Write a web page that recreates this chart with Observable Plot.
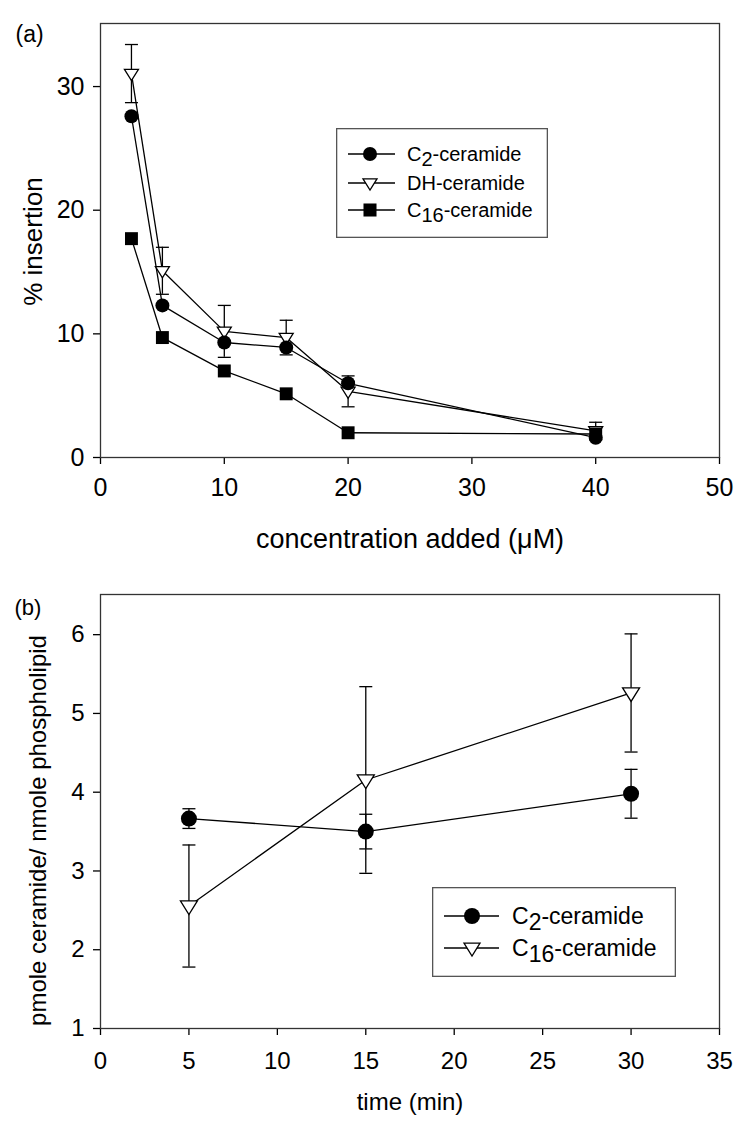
<!DOCTYPE html>
<html><head><meta charset="utf-8">
<script src="https://cdn.jsdelivr.net/npm/d3@7"></script>
<script src="https://cdn.jsdelivr.net/npm/@observablehq/plot@0.6"></script>
<style>
body{margin:0;background:#fff;}
#wrap{position:relative;width:750px;height:1121px;font-family:"Liberation Sans",Arial,sans-serif;background:#fff;}
.panel{position:absolute;left:0;}
.legend{position:absolute;}
</style></head>
<body><div id="wrap"><div id="pa" class="panel" style="top:0"></div><div id="pb" class="panel" style="top:560px"></div></div>
<script>
// ---- Panel (a) data ----
const concA = [2.5, 5, 10, 15, 20, 40];
const c2A = [27.6, 12.3, 9.3, 8.9, 6.0, 1.6];
const dhA = [31.05, 15.1, 10.2, 9.7, 5.35, 2.15];
const dhErrA = [2.35, 1.9, 2.1, 1.4, 1.25, 0.7];
const c16A = [17.7, 9.7, 7.0, 5.15, 2.0, 1.9];
const xTicksA = [0, 10, 20, 30, 40, 50];
const yTicksA = [0, 10, 20, 30];
const xLabelA = "concentration added (\u03BCM)";
const yLabelA = "% insertion";
const tagA = "(a)";
const legendA = [["C", "2", "-ceramide"], ["DH-ceramide", "", ""], ["C", "16", "-ceramide"]];

// ---- Panel (b) data ----
const timeB = [5, 15, 30];
const c2B = [3.665, 3.5, 3.98];
const c2ErrB = [0.125, 0.22, 0.31];
const c16B = [2.555, 4.155, 5.26];
const c16ErrB = [0.775, 1.185, 0.75];
const xTicksB = [0, 5, 10, 15, 20, 25, 30, 35];
const yTicksB = [1, 2, 3, 4, 5, 6];
const xLabelB = "time (min)";
const yLabelB = "pmole ceramide/ nmole phospholipid";
const tagB = "(b)";
const legendB = [["C", "2", "-ceramide"], ["C", "16", "-ceramide"]];

// ---- symbols ----
const triDown = {draw(ctx, size){const r = Math.sqrt(size/Math.PI); ctx.moveTo(-r,-0.6*r); ctx.lineTo(r,-0.6*r); ctx.lineTo(0,r); ctx.closePath();}};
const cap = {draw(ctx, size){const r = Math.sqrt(size/Math.PI); ctx.moveTo(-r,0); ctx.lineTo(r,0);}};

const font = "'Liberation Sans', Arial, sans-serif";
const fmt = d3.format("d");

// ---- Panel (a) ----
const rowsA = concA.flatMap((x, i) => [
  {series: "C2", x, y: c2A[i]},
  {series: "DH", x, y: dhA[i], e: dhErrA[i]},
  {series: "C16", x, y: c16A[i]}
]);
const dhRows = rowsA.filter(d => d.series === "DH");
const c2Rows = rowsA.filter(d => d.series === "C2");
const c16Rows = rowsA.filter(d => d.series === "C16");

const plotA = Plot.plot({
  width: 750, height: 560,
  marginLeft: 100, marginRight: 31, marginTop: 23, marginBottom: 103,
  style: {fontFamily: font, fontSize: "25px", color: "#000", background: "transparent", overflow: "visible"},
  x: {domain: [0, 50]},
  y: {domain: [0, 35.1]},
  marks: [
    Plot.axisX({ticks: xTicksA, tickSize: 7, tickPadding: 14, fontSize: 25, tickFormat: fmt, label: null, strokeWidth: 1.3}),
    Plot.axisY({ticks: yTicksA, tickSize: 7, tickPadding: 9, fontSize: 25, tickFormat: fmt, label: null, strokeWidth: 1.3}),
    Plot.ruleX(dhRows, {x: "x", y1: d => d.y - d.e, y2: d => d.y + d.e, stroke: "#000", strokeWidth: 1.3}),
    Plot.dot(dhRows, {x: "x", y: d => d.y + d.e, symbol: cap, r: 6.5, stroke: "#000", strokeWidth: 1.3}),
    Plot.dot(dhRows, {x: "x", y: d => d.y - d.e, symbol: cap, r: 6.5, stroke: "#000", strokeWidth: 1.3}),
    Plot.line(rowsA, {x: "x", y: "y", z: "series", stroke: "#000", strokeWidth: 1.3}),
    Plot.dot(dhRows, {x: "x", y: "y", symbol: triDown, r: 7, fill: "#fff", stroke: "#000", strokeWidth: 1.3}),
    Plot.dot(c16Rows, {x: "x", y: "y", symbol: "square", r: 7.3, fill: "#000", stroke: "none"}),
    Plot.dot(c2Rows, {x: "x", y: "y", symbol: "circle", r: 7, fill: "#000", stroke: "none"}),
    Plot.frame({stroke: "#333", strokeWidth: 1.3}),
    Plot.text([xLabelA], {text: d => d, frameAnchor: "bottom", textAnchor: "middle", lineAnchor: "middle", dy: 82, fontSize: 27}),
    Plot.text([yLabelA], {text: d => d, frameAnchor: "left", textAnchor: "middle", lineAnchor: "middle", rotate: -90, dx: -67, dy: 1, fontSize: 26}),
    Plot.text([tagA], {text: d => d, frameAnchor: "top-left", textAnchor: "start", lineAnchor: "middle", dx: -85, dy: 11.5, fontSize: 23})
  ]
});
document.getElementById("pa").appendChild(plotA);

// ---- Panel (b) ----
const rowsB = timeB.flatMap((x, i) => [
  {series: "C2", x, y: c2B[i], e: c2ErrB[i]},
  {series: "C16", x, y: c16B[i], e: c16ErrB[i]}
]);
const c2RowsB = rowsB.filter(d => d.series === "C2");
const c16RowsB = rowsB.filter(d => d.series === "C16");

const plotB = Plot.plot({
  width: 750, height: 561,
  marginLeft: 100, marginRight: 31, marginTop: 34, marginBottom: 93,
  style: {fontFamily: font, fontSize: "24px", color: "#000", background: "transparent", overflow: "visible"},
  x: {domain: [0, 35]},
  y: {domain: [1, 6.51]},
  marks: [
    Plot.axisX({ticks: xTicksB, tickSize: 7, tickPadding: 16, fontSize: 24, tickFormat: fmt, label: null, strokeWidth: 1.3}),
    Plot.axisY({ticks: yTicksB, tickSize: 7, tickPadding: 9, fontSize: 24, tickFormat: fmt, label: null, strokeWidth: 1.3}),
    Plot.ruleX(rowsB, {x: "x", y1: d => d.y - d.e, y2: d => d.y + d.e, stroke: "#000", strokeWidth: 1.3}),
    Plot.dot(rowsB, {x: "x", y: d => d.y + d.e, symbol: cap, r: 6.5, stroke: "#000", strokeWidth: 1.3}),
    Plot.dot(rowsB, {x: "x", y: d => d.y - d.e, symbol: cap, r: 6.5, stroke: "#000", strokeWidth: 1.3}),
    Plot.line(rowsB, {x: "x", y: "y", z: "series", stroke: "#000", strokeWidth: 1.3}),
    Plot.dot(c16RowsB, {x: "x", y: "y", symbol: triDown, r: 8.5, fill: "#fff", stroke: "#000", strokeWidth: 1.3}),
    Plot.dot(c2RowsB, {x: "x", y: "y", symbol: "circle", r: 8, fill: "#000", stroke: "none"}),
    Plot.frame({stroke: "#333", strokeWidth: 1.3}),
    Plot.text([xLabelB], {text: d => d, frameAnchor: "bottom", textAnchor: "middle", lineAnchor: "middle", dy: 74, fontSize: 24}),
    Plot.text([yLabelB], {text: d => d, frameAnchor: "left", textAnchor: "middle", lineAnchor: "middle", rotate: -90, dx: -62, dy: 19, fontSize: 24}),
    Plot.text([tagB], {text: d => d, frameAnchor: "top-left", textAnchor: "start", lineAnchor: "middle", dx: -86, dy: 13, fontSize: 22})
  ]
});
document.getElementById("pb").appendChild(plotB);

// ---- Legends (HTML overlay with inline SVG) ----
function legend(entries, opts) {
  const {left, top, w, h, rowY, x0, x1, mx, tx, fs, r, symbols} = opts;
  let s = `<svg width="${w}" height="${h}" style="position:absolute;left:${left}px;top:${top}px;overflow:visible" font-family="${font.replace(/'/g,"")}" font-size="${fs}">`;
  s += `<rect x="0.65" y="0.65" width="${w-1.3}" height="${h-1.3}" fill="#fff" stroke="#555" stroke-width="1.3"/>`;
  entries.forEach((e, i) => {
    const y = rowY[i];
    s += `<line x1="${x0}" x2="${x1}" y1="${y}" y2="${y}" stroke="#000" stroke-width="1.3"/>`;
    const sym = symbols[i];
    if (sym === "circle") s += `<circle cx="${mx}" cy="${y}" r="${r}" fill="#000"/>`;
    else if (sym === "square") { const a = r*0.93; s += `<rect x="${mx-a}" y="${y-a}" width="${2*a}" height="${2*a}" fill="#000"/>`; }
    else s += `<path d="M${mx-r},${y-0.6*r}L${mx+r},${y-0.6*r}L${mx},${y+r}Z" fill="#fff" stroke="#000" stroke-width="1.3"/>`;
    const base = y + 0.34*fs;
    s += `<text x="${tx}" y="${base}">${e[0]}${e[1] ? `<tspan dy="${0.25*fs}">${e[1]}</tspan><tspan dy="${-0.25*fs}">${e[2]}</tspan>` : ""}</text>`;
  });
  s += `</svg>`;
  const d = document.createElement("div");
  d.className = "legend";
  d.innerHTML = s;
  document.getElementById("wrap").appendChild(d);
}
legend(legendA, {left: 336, top: 128, w: 212, h: 110, rowY: [26, 55, 82], x0: 12, x1: 59, mx: 34, tx: 71, fs: 20, r: 7, symbols: ["circle", "tri", "square"]});
legend(legendB, {left: 432, top: 887, w: 244, h: 90, rowY: [29, 61], x0: 12, x1: 67, mx: 40, tx: 80, fs: 23, r: 8, symbols: ["circle", "tri"]});
</script>
</body></html>
